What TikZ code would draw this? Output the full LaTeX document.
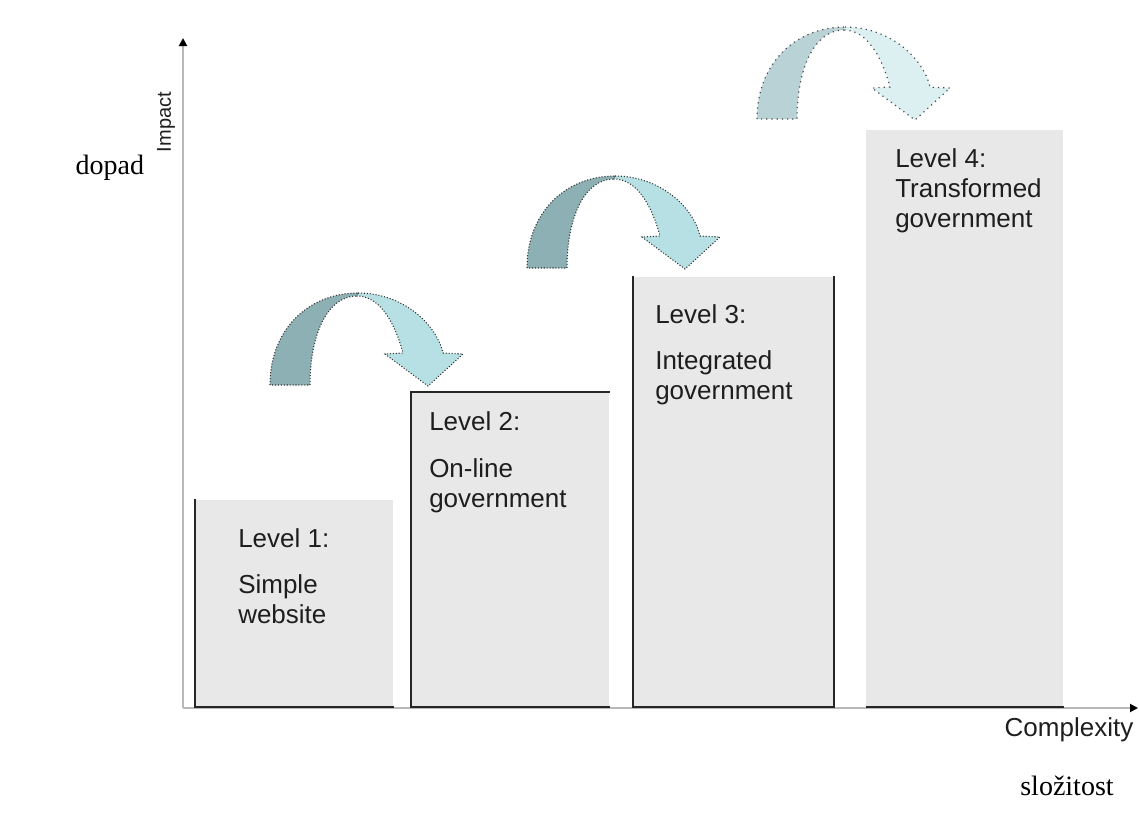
\documentclass[tikz,border=0pt]{standalone}
\usepackage{fontspec}
\setmainfont{Liberation Sans}
\newfontfamily\timesfont{Liberation Serif}
\usetikzlibrary{arrows.meta}

\definecolor{boxgray}{HTML}{E8E8E8}
\definecolor{arrowdark}{HTML}{8DB0B4}
\definecolor{arrowlight}{HTML}{B7E0E4}
\definecolor{fadedark}{HTML}{B9D2D5}
\definecolor{fadelight}{HTML}{DCEFF1}
\definecolor{textgray}{HTML}{1E1E1E}

% curved jump arrow: #1 foot of the arrow, #2 rising part, #3 falling part, #4 outline
\newcommand{\jumparrow}[4]{%
  \begin{scope}[shift={#1}]
    \filldraw[fill=#2,#4] (0,0) .. controls (0,-55) and (38,-92) .. (88,-92)
      -- (87,-89) .. controls (57,-89) and (40,-50) .. (40,0) -- cycle;
    \filldraw[fill=#3,#4] (88,-92) .. controls (132,-92) and (166,-62) .. (173,-32)
      -- (193,-31) -- (158,1) -- (115,-31) -- (133,-32)
      .. controls (125,-62) and (110,-89) .. (87,-89) -- cycle;
  \end{scope}}

\begin{document}
\begin{tikzpicture}[x=0.75pt,y=-0.75pt,
  levelbox/.style={fill=boxgray,anchor=south west,inner sep=0pt,minimum width=148.5pt},
  boxline/.style={line width=1.5pt,black!85},
  leveltext/.style={anchor=north west,inner sep=0pt,align=left,text=textgray,
    font=\fontsize{19.5}{22.5}\selectfont},
  axisline/.style={line width=1.4pt,black!28,-{Triangle[black,length=6pt,width=6pt]}},
  outline/.style={draw=black!80,line width=0.8pt,dash pattern=on 0.8pt off 1.4pt},
  fadeline/.style={draw=black!70,line width=0.9pt,dash pattern=on 0.9pt off 3pt}]
  \useasboundingbox (0,0) rectangle (1139,818);

  % axes
  \coordinate (origin) at (183,708);
  \coordinate (ytop) at (183,38);
  \coordinate (xend) at (1138,708);
  \draw[axisline] (origin) -- (ytop);
  \draw[axisline] (origin) -- (xend);

  % level boxes
  \node[levelbox,minimum height=155.25pt] (lvl1) at (195,707) {};
  \node[levelbox,minimum height=235.5pt] (lvl2) at (411,707) {};
  \node[levelbox,minimum width=150pt,minimum height=322.5pt] (lvl3) at (633,707) {};
  \node[levelbox,minimum width=147.75pt,minimum height=432.75pt] (lvl4) at (866,707) {};
  \draw[boxline] (lvl1.north west) -- (lvl1.south west) -- (lvl1.south east);
  \draw[boxline] (lvl2.north east) -- (lvl2.north west) -- (lvl2.south west) -- (lvl2.south east);
  \draw[boxline] (lvl3.north west) -- (lvl3.south west) -- (lvl3.south east) -- (lvl3.north east);
  \draw[boxline] (lvl4.south west) -- (lvl4.south east);

  \node[leveltext] (txt1) at (238,528) {Level 1:\\[12pt]Simple\\website};
  \node[leveltext] (txt2) at (429,411) {Level 2:\\[13pt]On-line\\government};
  \node[leveltext] (txt3) at (655,304) {Level 3:\\[12pt]Integrated\\government};
  \node[leveltext] (txt4) at (895,148) {Level 4:\\Transformed\\government};

  % arrows between the levels
  \jumparrow{(270,385)}{arrowdark}{arrowlight}{outline}
  \jumparrow{(527,268)}{arrowdark}{arrowlight}{outline}
  \jumparrow{(757,119)}{fadedark}{fadelight}{fadeline}

  % axis labels
  \node[rotate=90,text=textgray,font=\fontsize{15}{18}\selectfont] (impact) at (166,122) {Impact};
  \node[anchor=west,font=\timesfont\fontsize{21}{25}\selectfont] (dopad) at (71,168) {dopad};
  \node[text=textgray,font=\fontsize{19.5}{22.5}\selectfont] (complexity) at (1069,730) {Complexity};
  \node[font=\timesfont\fontsize{21}{25}\selectfont] (slozitost) at (1067,786) {složitost};
\end{tikzpicture}
\end{document}
